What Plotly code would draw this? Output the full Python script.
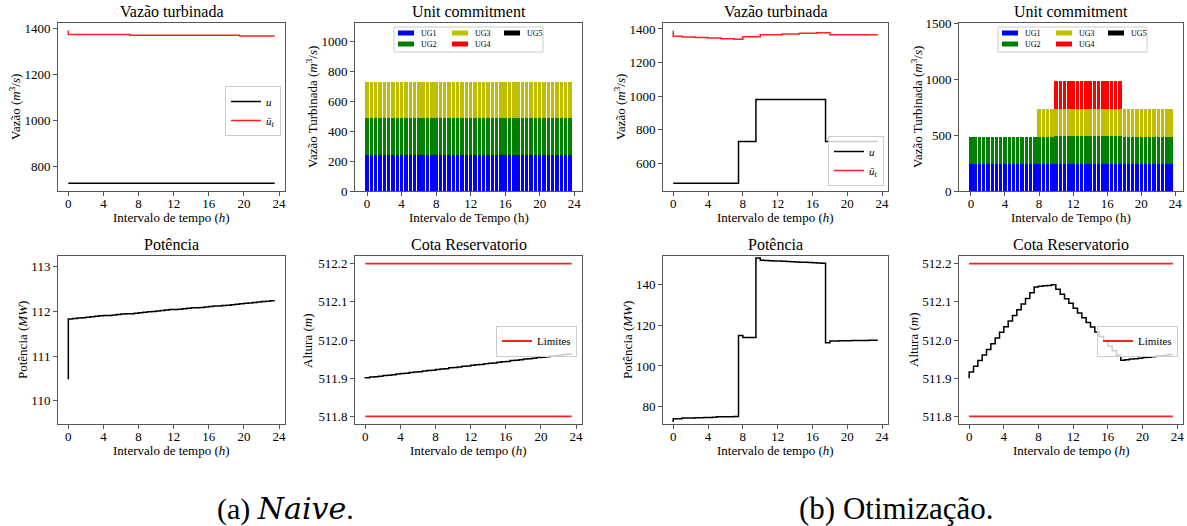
import plotly.graph_objects as go

W, H = 1187, 526
SERIF = "Liberation Serif"
AXC = "#555555"

# ---------------- data ----------------
hours = [0, 0.5, 1, 1.5, 2, 2.5, 3, 3.5, 4, 4.5, 5, 5.5, 6, 6.5, 7, 7.5,
         8, 8.5, 9, 9.5, 10, 10.5, 11, 11.5, 12, 12.5, 13, 13.5, 14, 14.5, 15, 15.5,
         16, 16.5, 17, 17.5, 18, 18.5, 19, 19.5, 20, 20.5, 21, 21.5, 22, 22.5, 23, 23.5]
x_ticks = [0, 4, 8, 12, 16, 20, 24]

# (a) Naive
naive_u = [730] * 48
naive_ubar = [1390] + [1372] * 14 + [1369] * 25 + [1366] * 8
naive_ug1 = [243.3] * 48
naive_ug2 = [243.3] * 48
naive_ug3 = [243.3] * 48
naive_ug4 = [0] * 48
naive_ug5 = [0] * 48
naive_pot = [110.48, 111.83, 111.84, 111.85, 111.86, 111.87, 111.88, 111.89,
             111.90, 111.91, 111.91, 111.92, 111.93, 111.94, 111.95, 111.95,
             111.96, 111.97, 111.98, 111.99, 112.00, 112.01, 112.02, 112.03,
             112.04, 112.04, 112.05, 112.06, 112.07, 112.08, 112.08, 112.09,
             112.10, 112.11, 112.12, 112.12, 112.13, 112.14, 112.15, 112.16,
             112.17, 112.18, 112.19, 112.20, 112.21, 112.22, 112.23, 112.24]
naive_cota = [511.900, 511.901, 511.903, 511.904, 511.905, 511.907, 511.908, 511.909,
              511.911, 511.912, 511.913, 511.915, 511.916, 511.917, 511.919, 511.920,
              511.921, 511.923, 511.924, 511.925, 511.927, 511.928, 511.929, 511.931,
              511.932, 511.934, 511.935, 511.936, 511.938, 511.939, 511.940, 511.942,
              511.943, 511.944, 511.946, 511.947, 511.948, 511.950, 511.951, 511.952,
              511.954, 511.955, 511.956, 511.958, 511.959, 511.960, 511.962, 511.963]

# (b) Otimização
opt_u = [480] * 16 + [730] * 4 + [980] * 16 + [730] * 12
opt_ubar = ([1390] + [1356] * 2 + [1352] * 3 + [1349] * 3 + [1346] * 3 + [1342] * 3
            + [1338] * 2 + [1354] * 4 + [1366] * 5 + [1370] * 4 + [1374] * 4
            + [1378] * 3 + [1365] * 11)
opt_ug1 = [240] * 16 + [243.3] * 4 + [245] * 16 + [243.3] * 12
opt_ug2 = [240] * 16 + [243.3] * 4 + [245] * 16 + [243.3] * 12
opt_ug3 = [0] * 16 + [243.3] * 4 + [245] * 16 + [243.3] * 12
opt_ug4 = [0] * 20 + [245] * 16 + [0] * 12
opt_ug5 = [0] * 48
opt_pot = [72.6, 74.2, 74.2, 74.5, 74.5, 74.5, 74.7, 74.7,
           74.8, 74.8, 74.9, 75.1, 75.1, 75.2, 75.2, 75.3,
           114.9, 113.9, 113.9, 113.9, 152.8, 151.7, 151.6, 151.5,
           151.4, 151.3, 151.2, 151.1, 151.0, 150.9, 150.8, 150.7,
           150.6, 150.5, 150.4, 150.2, 111.3, 112.2, 112.2, 112.3,
           112.3, 112.3, 112.4, 112.5, 112.5, 112.5, 112.6, 112.6]
opt_cota = [511.900, 511.916, 511.931, 511.946, 511.961, 511.975, 511.990, 512.005,
            512.020, 512.035, 512.050, 512.064, 512.079, 512.094, 512.109, 512.124,
            512.139, 512.141, 512.142, 512.143, 512.145, 512.133, 512.120, 512.108,
            512.096, 512.083, 512.071, 512.058, 512.046, 512.034, 512.021, 512.009,
            511.997, 511.984, 511.972, 511.960, 511.947, 511.948, 511.950, 511.951,
            511.952, 511.954, 511.955, 511.956, 511.958, 511.959, 511.960, 511.962]

limites = [511.8, 512.2]

ug_names = ["UG1", "UG2", "UG3", "UG4", "UG5"]
ug_colors = ["#0000ff", "#008000", "#bfbf00", "#ff0000", "#000000"]

# ---------------- layout helpers ----------------
cols = [(58, 285), (355, 582), (663, 888), (959, 1183)]
rows = [(23, 191), (256, 424)]


def px(p):
    return p / W


def py(p):
    return 1 - p / H


panels = [
    dict(title="Vazão turbinada", xr=[-1.175, 24.675], yr=[696, 1422],
         yt=[800, 1000, 1200, 1400], ytitle="Vazão (<i>m</i><sup>3</sup>/<i>s</i>)",
         xtitle="Intervalo de tempo (<i>h</i>)", ylab_off=43, fmt=None),
    dict(title="Unit commitment", xr=[-1.4, 24.9], yr=[0, 1125],
         yt=[0, 200, 400, 600, 800, 1000],
         ytitle="Vazão Turbinada (<i>m</i><sup>3</sup>/<i>s</i>)",
         xtitle="Intervalo de Tempo (h)", ylab_off=43, fmt=None),
    dict(title="Vazão turbinada", xr=[-1.175, 24.675], yr=[434.5, 1435.5],
         yt=[600, 800, 1000, 1200, 1400], ytitle="Vazão (<i>m</i><sup>3</sup>/<i>s</i>)",
         xtitle="Intervalo de tempo (<i>h</i>)", ylab_off=43, fmt=None),
    dict(title="Unit commitment", xr=[-1.4, 24.9], yr=[0, 1500],
         yt=[0, 500, 1000, 1500],
         ytitle="Vazão Turbinada (<i>m</i><sup>3</sup>/<i>s</i>)",
         xtitle="Intervalo de Tempo (h)", ylab_off=42, fmt=None),
    dict(title="Potência", xr=[-1.175, 24.675], yr=[109.48, 113.24],
         yt=[110, 111, 112, 113], ytitle="Potência (<i>MW</i>)",
         xtitle="Intervalo de tempo (<i>h</i>)", ylab_off=36, fmt=None),
    dict(title="Cota Reservatorio", xr=[-1.175, 24.675], yr=[511.78, 512.22],
         yt=[511.8, 511.9, 512.0, 512.1, 512.2], ytitle="Altura (<i>m</i>)",
         xtitle="Intervalo de tempo (<i>h</i>)", ylab_off=48, fmt=".1f"),
    dict(title="Potência", xr=[-1.175, 24.675], yr=[71.6, 153.8],
         yt=[80, 100, 120, 140], ytitle="Potência (<i>MW</i>)",
         xtitle="Intervalo de tempo (<i>h</i>)", ylab_off=36, fmt=None),
    dict(title="Cota Reservatorio", xr=[-1.175, 24.675], yr=[511.78, 512.22],
         yt=[511.8, 511.9, 512.0, 512.1, 512.2], ytitle="Altura (<i>m</i>)",
         xtitle="Intervalo de tempo (<i>h</i>)", ylab_off=46, fmt=".1f"),
]

fig = go.Figure()
layout = dict(width=W, height=H, margin=dict(l=0, r=0, t=0, b=0),
              plot_bgcolor="white", paper_bgcolor="white",
              font=dict(family=SERIF, size=13, color="black"),
              barmode="stack", bargap=0, showlegend=True)
annotations = []
shapes = []

for k, p in enumerate(panels):
    r, c = divmod(k, 4)
    sfx = "" if k == 0 else str(k + 1)
    x0, x1 = cols[c]
    y0, y1 = rows[r]
    common = dict(showline=True, mirror=True, linecolor=AXC, linewidth=1,
                  ticks="outside", ticklen=4, tickcolor=AXC, showgrid=False,
                  zeroline=False, automargin=False,
                  tickfont=dict(family=SERIF, size=13, color="black"))
    layout["xaxis" + sfx] = dict(domain=[px(x0), px(x1)], anchor="y" + sfx,
                                 range=p["xr"], tickvals=x_ticks,
                                 ticklabelstandoff=-4, **common)
    ya = dict(domain=[py(y1), py(y0)], anchor="x" + sfx, range=p["yr"],
              tickvals=p["yt"], **common)
    if p["fmt"]:
        ya["tickformat"] = p["fmt"]
    layout["yaxis" + sfx] = ya
    # title
    annotations.append(dict(text=p["title"], x=px((x0 + x1) / 2), y=py(y0 - 1),
                            xref="paper", yref="paper", xanchor="center",
                            yanchor="bottom", showarrow=False,
                            font=dict(family=SERIF, size=16)))
    # x title
    annotations.append(dict(text=p["xtitle"], x=px((x0 + x1) / 2), y=py(y1 + 26),
                            xref="paper", yref="paper", xanchor="center",
                            yanchor="middle", showarrow=False,
                            font=dict(family=SERIF, size=13)))
    # y title
    annotations.append(dict(text=p["ytitle"], x=px(x0 - p["ylab_off"]),
                            y=py((y0 + y1) / 2), xref="paper", yref="paper",
                            xanchor="center", yanchor="middle", textangle=-90,
                            showarrow=False, font=dict(family=SERIF, size=13)))

LEG = dict(bgcolor="rgba(255,255,255,0.8)", bordercolor="#cccccc", borderwidth=1,
           font=dict(family=SERIF, size=11), itemwidth=30, tracegroupgap=0,
           traceorder="normal")
layout["legend"] = dict(x=px(281), xanchor="right", y=py(86), yanchor="top", **LEG)
layout["legend2"] = dict(x=px(884), xanchor="right", y=py(186), yanchor="bottom", **LEG)
layout["legend3"] = dict(x=px(577), xanchor="right", y=py(341), yanchor="middle", **LEG)
layout["legend4"] = dict(x=px(1178), xanchor="right", y=py(341), yanchor="middle", **LEG)

U_NAME = "<i>u</i>"
UBAR_NAME = "<i>ū</i><sub><i>t</i></sub>"

# Panel 1 / 3: flow
for sfx, u, ubar, leg in [("", naive_u, naive_ubar, "legend"),
                          ("3", opt_u, opt_ubar, "legend2")]:
    fig.add_trace(go.Scatter(x=hours, y=u, mode="lines", line_shape="vh",
                             line=dict(color="black", width=1.5), name=U_NAME,
                             xaxis="x" + sfx, yaxis="y" + sfx, legend=leg,
                             legendrank=1))
    fig.add_trace(go.Scatter(x=hours, y=ubar, mode="lines", line_shape="vh",
                             line=dict(color="#ff2020", width=1.5), name=UBAR_NAME,
                             xaxis="x" + sfx, yaxis="y" + sfx, legend=leg,
                             legendrank=2))

# Panel 2 / 4: unit commitment
for sfx, ugs in [("2", [naive_ug1, naive_ug2, naive_ug3, naive_ug4, naive_ug5]),
                 ("4", [opt_ug1, opt_ug2, opt_ug3, opt_ug4, opt_ug5])]:
    for name, col, vals in zip(ug_names, ug_colors, ugs):
        fig.add_trace(go.Bar(x=hours, y=vals, width=0.4, name=name,
                             marker=dict(color=col, line=dict(width=0)),
                             xaxis="x" + sfx, yaxis="y" + sfx, showlegend=False))

# Panel 5 / 7: power
for sfx, pot in [("5", naive_pot), ("7", opt_pot)]:
    fig.add_trace(go.Scatter(x=hours, y=pot, mode="lines", line_shape="vh",
                             line=dict(color="black", width=1.5), showlegend=False,
                             xaxis="x" + sfx, yaxis="y" + sfx))

# Panel 6 / 8: reservoir level
for sfx, cota, leg in [("6", naive_cota, "legend3"), ("8", opt_cota, "legend4")]:
    fig.add_trace(go.Scatter(x=hours, y=cota, mode="lines", line_shape="vh",
                             line=dict(color="black", width=1.5), showlegend=False,
                             xaxis="x" + sfx, yaxis="y" + sfx))
    for i, lim in enumerate(limites):
        fig.add_trace(go.Scatter(x=[hours[0], hours[-1]], y=[lim, lim], mode="lines",
                                 line=dict(color="#ff2020", width=1.8), name="Limites",
                                 showlegend=(i == 0), legend=leg,
                                 xaxis="x" + sfx, yaxis="y" + sfx))

# Manual 3-column legends for the bar panels
leg_order = [(0, 0, 0), (1, 0, 1), (2, 1, 0), (3, 1, 1), (4, 2, 0)]  # (ug, col, row)
sw_off = [4, 58, 110]
tx_off = [25, 79, 131]
for c in (1, 3):
    bx0 = cols[c][0] + 39
    by0 = rows[0][0] + 4
    bx1, by1 = bx0 + 149, by0 + 25
    shapes.append(dict(type="rect", xref="paper", yref="paper",
                       x0=px(bx0), x1=px(bx1), y0=py(by1), y1=py(by0),
                       line=dict(color="#cccccc", width=1),
                       fillcolor="rgba(255,255,255,0.8)", layer="above"))
    for ug, cc, rr in leg_order:
        cy = by0 + 6 + rr * 11
        sx = bx0 + sw_off[cc]
        shapes.append(dict(type="rect", xref="paper", yref="paper",
                           x0=px(sx), x1=px(sx + 16), y0=py(cy + 2.5), y1=py(cy - 2.5),
                           line=dict(width=0), fillcolor=ug_colors[ug], layer="above"))
        annotations.append(dict(text=ug_names[ug], x=px(bx0 + tx_off[cc]), y=py(cy),
                                xref="paper", yref="paper", xanchor="left",
                                yanchor="middle", showarrow=False,
                                font=dict(family=SERIF, size=8)))

# Captions
annotations.append(dict(
    text="(a) <span style=\"font-family:'DejaVu Serif'\"><i>Naive</i></span>.",
    x=px(285), y=py(508), xref="paper", yref="paper", xanchor="center",
    yanchor="middle", showarrow=False, font=dict(family=SERIF, size=30)))
annotations.append(dict(text="(b) Otimização.", x=px(896.5), y=py(508), xref="paper",
                        yref="paper", xanchor="center", yanchor="middle",
                        showarrow=False, font=dict(family=SERIF, size=31)))

layout["annotations"] = annotations
layout["shapes"] = shapes
fig.update_layout(**layout)
fig.write_html("out.html", config={"displayModeBar": False},
               post_script="document.body.style.margin='0';document.body.style.overflow='hidden';")
